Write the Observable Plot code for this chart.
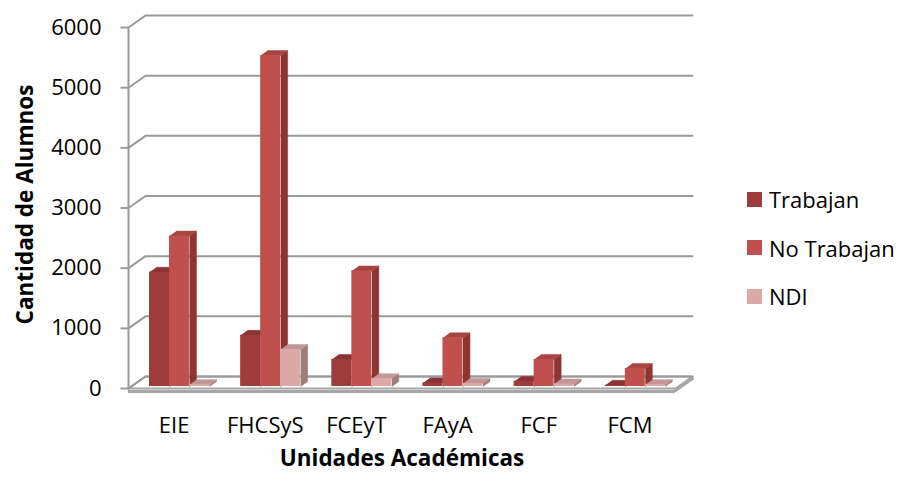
<!DOCTYPE html>
<html>
<head>
<meta charset="utf-8">
<script src="https://cdn.jsdelivr.net/npm/d3@7"></script>
<script src="https://cdn.jsdelivr.net/npm/@observablehq/plot@0.6"></script>
<style>
  html, body { margin: 0; padding: 0; background: #fff; }
  #wrap { position: relative; width: 902px; height: 477px; font-family: "Open Sans", sans-serif; }
  #legend { position: absolute; left: 747px; top: 175px; }
  .item { display: flex; align-items: center; height: 48.5px; font-size: 22px; color: #000; }
  .sw { width: 15px; height: 15px; margin-right: 7px; }
</style>
</head>
<body>
<div id="wrap"><div id="legend"></div></div>
<script>
const categories = ["EIE", "FHCSyS", "FCEyT", "FAyA", "FCF", "FCM"];
const seriesNames = ["Trabajan", "No Trabajan", "NDI"];
const trabajan   = [1900, 850, 450, 60, 85, 20];
const noTrabajan = [2500, 5500, 1920, 810, 450, 300];
const ndi        = [30, 615, 130, 50, 40, 30];
const yTicks = [0, 1000, 2000, 3000, 4000, 5000, 6000];

const seriesValues = [trabajan, noTrabajan, ndi];
const frontColors = ["#9E3B3B", "#C0504D", "#DBA9A8"];
const sideColors  = ["#792B2B", "#8E3533", "#A07C7B"];
const topColors   = ["#8A3333", "#A84543", "#C29796"];

// scale geometry
const W = 902, H = 477, mL = 128, mR = 227, mT = 15, mB = 89;
const X0 = -0.5, X1 = categories.length - 0.5;
const yMax = 6200;
const pxX = (W - mL - mR) / (X1 - X0);
const pxY = (H - mT - mB) / yMax;
const WALL_DX = 17 / pxX, WALL_DY = 12 / pxY;
const BAR_W = 20 / pxX, BAR_DX = 7 / pxX, BAR_DY = 5 / pxY;
const FRONT_DX = 5.4 / pxX, FRONT_BASE = 2 / pxY;

// bars
const bars = [];
categories.forEach((c, i) => {
  seriesValues.forEach((vals, j) => {
    const x0 = i + FRONT_DX - 1.5 * BAR_W + j * BAR_W;
    bars.push({ s: j, cat: c, v: vals[i], x0, x1: x0 + BAR_W, b: FRONT_BASE, t: vals[i] + FRONT_BASE });
  });
});
const sidePts = [], topPts = [];
bars.forEach((d, k) => {
  [[d.x1, d.b], [d.x1 + BAR_DX, d.b + BAR_DY], [d.x1 + BAR_DX, d.t + BAR_DY], [d.x1, d.t]]
    .forEach(([x, y]) => sidePts.push({ id: k, s: d.s, x, y }));
  [[d.x0, d.t], [d.x1, d.t], [d.x1 + BAR_DX, d.t + BAR_DY], [d.x0 + BAR_DX, d.t + BAR_DY]]
    .forEach(([x, y]) => topPts.push({ id: k, s: d.s, x, y }));
});

// grid on back wall
const gridPts = [];
yTicks.forEach(t => {
  gridPts.push({ t, x: X0, y: t });
  gridPts.push({ t, x: X0 + WALL_DX, y: t + WALL_DY });
  gridPts.push({ t, x: X1 + WALL_DX, y: t + WALL_DY });
});
const floorPts = [
  { x: X0, y: 0 }, { x: X1, y: 0 }, { x: X1 + WALL_DX, y: WALL_DY }, { x: X0 + WALL_DX, y: WALL_DY }, { x: X0, y: 0 }
];

const marks = [
  Plot.line(floorPts, { x: "x", y: "y", fill: "#ffffff", stroke: "#a6a6a6", strokeWidth: 2 }),
  Plot.line(gridPts, { x: "x", y: "y", z: "t", stroke: "#9a9a9a", strokeWidth: 2 }),
  Plot.ruleY([0], { x1: X0, x2: X1, dy: 3, stroke: "#a6a6a6", strokeWidth: 3 }),
  Plot.line([{x: X1, y: 0}, {x: X1 + WALL_DX, y: WALL_DY}], { x: "x", y: "y", dy: 2, stroke: "#a6a6a6", strokeWidth: 3 }),
  Plot.ruleX([X0], { y1: 0, y2: 6000, stroke: "#9a9a9a", strokeWidth: 2 }),
  Plot.link(yTicks, { x1: X0 - 8 / pxX, x2: X0, y1: d => d, y2: d => d, stroke: "#9a9a9a", strokeWidth: 2 }),
  Plot.text(yTicks, { x: X0, y: d => d, text: d => String(d), dx: -27, textAnchor: "end", fontSize: 22, fill: "#000" })
];
[0, 1, 2].forEach(j => {
  marks.push(Plot.line(sidePts.filter(p => p.s === j), { x: "x", y: "y", z: "id", fill: sideColors[j], stroke: sideColors[j], strokeWidth: 0.5 }));
});
[0, 1, 2].forEach(j => {
  marks.push(Plot.line(topPts.filter(p => p.s === j), { x: "x", y: "y", z: "id", fill: topColors[j], stroke: topColors[j], strokeWidth: 0.5 }));
});
[0, 1, 2].forEach(j => {
  marks.push(Plot.rect(bars.filter(d => d.s === j), { x1: "x0", x2: "x1", y1: "b", y2: "t", fill: frontColors[j], inset: 0 }));
});
const yTitleY = (H - mB - 204) / pxY;
marks.push(
  Plot.text(categories, { x: (d, i) => i, y: 0, dy: 37, text: d => d, fontSize: 22, fill: "#000" }),
  Plot.text(["Unidades Académicas"], { frameAnchor: "bottom", dy: 77, fontSize: 22.5, fontWeight: "bold", fill: "#000" }),
  Plot.text(["Cantidad de Alumnos"], { x: X0 - 103 / pxX, y: yTitleY, rotate: -90, fontSize: 22.5, fontWeight: "bold", fill: "#000" })
);

const chart = Plot.plot({
  width: W, height: H,
  marginLeft: mL, marginRight: mR, marginTop: mT, marginBottom: mB,
  x: { type: "linear", domain: [X0, X1], axis: null },
  y: { type: "linear", domain: [0, yMax], axis: null },
  style: { fontFamily: "Open Sans", background: "#fff", overflow: "visible" },
  marks
});
const wrap = document.getElementById("wrap");
wrap.insertBefore(chart, wrap.firstChild);

const legend = document.getElementById("legend");
seriesNames.forEach((n, j) => {
  const it = document.createElement("div");
  it.className = "item";
  it.innerHTML = `<div class="sw" style="background:${frontColors[j]}"></div><span>${n}</span>`;
  legend.appendChild(it);
});
</script>
</body>
</html>
